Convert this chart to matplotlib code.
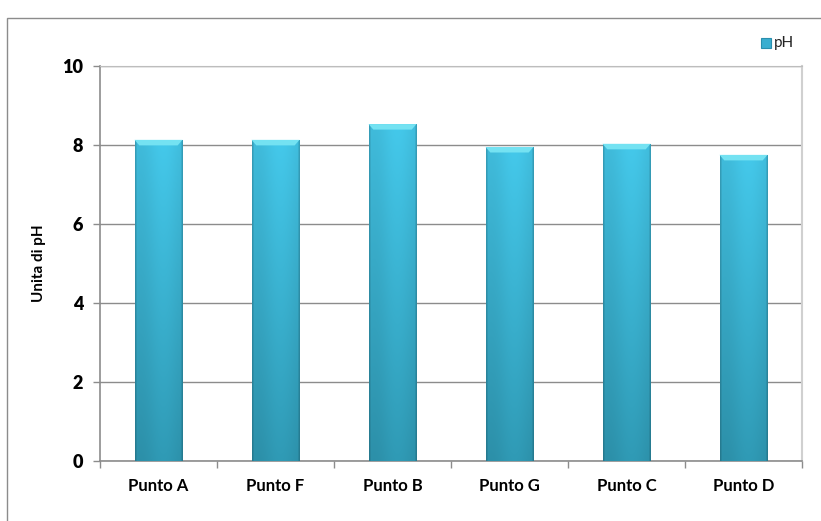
import numpy as np
import matplotlib
matplotlib.use("Agg")
import matplotlib.pyplot as plt
from matplotlib.patches import Rectangle, Polygon
from matplotlib.colors import to_rgb

categories = ["Punto A", "Punto F", "Punto B", "Punto G", "Punto C", "Punto D"]
ph_values = [8.13, 8.13, 8.53, 7.95, 8.03, 7.75]
y_ticks = [0, 2, 4, 6, 8, 10]
series_name = "pH"
y_label = "Unita di pH"

plt.rcParams["font.family"] = ["Lato", "DejaVu Sans"]

fig = plt.figure(figsize=(8.21, 5.21), dpi=100)
ax = fig.add_axes([100 / 821, 1 - 461 / 521, 702 / 821, 395 / 521])

# outer chart frame
fig.patches.append(Rectangle((7 / 821, -0.02), 2, 1 - 18 / 521 + 0.02,
                             transform=fig.transFigure, fill=False,
                             edgecolor="#8c8c8c", linewidth=1.0))

n = len(categories)
x = np.arange(n)
width = 0.41
ax.set_xlim(-0.5, n - 0.5)
ax.set_ylim(0, 10)

# bar fill: light cyan at the top fading to deeper teal at the base,
# with a gentle horizontal variation across the bar
top = np.array(to_rgb("#42c2e3"))
bottom = np.array(to_rgb("#2e95af"))
ny, nx = 128, 64
t = np.linspace(0, 1, ny)[:, None, None]          # 0 bottom -> 1 top
vert = bottom * (1 - t) + top * t
hx = np.linspace(0, 1, nx)
horiz = 1.0 - 0.035 * np.cos(np.pi * hx * 2 - 0.6)
edge = np.ones(nx)
edge[:2] = 0.84
edge[-2:] = 0.84
body = np.clip(vert * (horiz * edge)[None, :, None], 0, 1)

bars = ax.bar(x, ph_values, width=width, color="none", edgecolor="none", zorder=3)
for bar, v in zip(bars, ph_values):
    x0 = bar.get_x()
    w = bar.get_width()
    im = ax.imshow(body, extent=(x0, x0 + w, 0, v), origin="lower",
                   aspect="auto", zorder=3, interpolation="bilinear")
    im.set_clip_path(bar)
    # bevelled top cap
    cap = 0.14
    dx = w * 0.1
    ax.add_patch(Polygon([(x0, v), (x0 + w, v), (x0 + w - dx, v - cap),
                          (x0 + dx, v - cap)], closed=True,
                         facecolor="#74e2f2", edgecolor="none", zorder=4))

ax.set_yticks(y_ticks)
ax.set_yticklabels([str(t) for t in y_ticks])
ax.set_xticks(x)
ax.set_xticklabels(categories)
for lab in ax.get_yticklabels():
    lab.set_fontsize(13)
    lab.set_fontweight("heavy")
for lab in ax.get_xticklabels():
    lab.set_fontsize(12)
    lab.set_fontweight("bold")
ax.tick_params(axis="x", length=0, pad=12)
ax.tick_params(axis="y", length=5, color="#8c8c8c", width=1, pad=7)
ax.set_xticks(np.arange(-0.5, n, 1.0), minor=True)
ax.tick_params(axis="x", which="minor", length=5, color="#8c8c8c", width=1)
ax.yaxis.grid(True, color="#8c8c8c", linewidth=1.0, zorder=0)
ax.set_axisbelow(True)
for side in ["left", "bottom"]:
    ax.spines[side].set_color("#8c8c8c")
    ax.spines[side].set_linewidth(1.2)
ax.spines["top"].set_color("#bdbdbd")
ax.spines["right"].set_color("#d0d0d0")
ax.spines["right"].set_linewidth(1.5)

ax.set_ylabel(y_label, fontsize=11, fontweight="bold", labelpad=12)

# legend
fig.patches.append(Rectangle((761 / 821, 1 - 48 / 521), 10 / 821, 10 / 521,
                             transform=fig.transFigure, facecolor="#3aaed0",
                             edgecolor="#2a8fae", linewidth=0.8))
fig.text(774 / 821, 1 - 43 / 521, series_name, fontsize=11, va="center",
         ha="left", color="#222222")

fig.savefig("out.png", dpi=100)
